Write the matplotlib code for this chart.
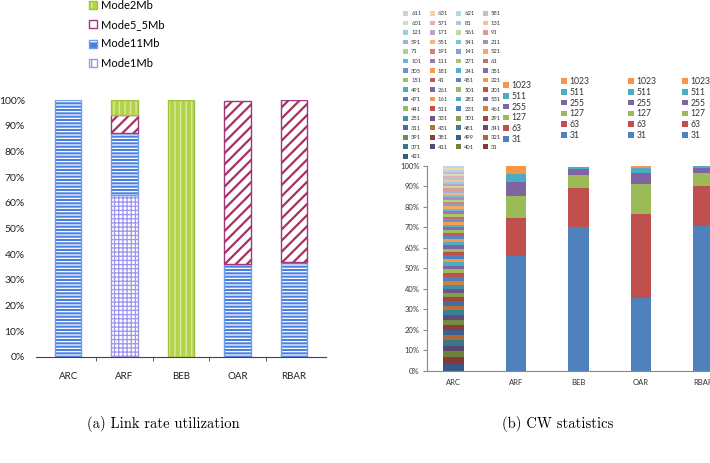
import matplotlib
matplotlib.use('Agg')
import matplotlib.pyplot as plt
from matplotlib.patches import Patch
from matplotlib.ticker import FixedLocator

# ---- data: (a) link rate utilization (percent) ----
categories = ['ARC', 'ARF', 'BEB', 'OAR', 'RBAR']
mode1mb = [0, 63, 0, 0, 0]
mode11mb = [100, 24, 0, 36, 37]
mode5_5mb = [0, 7, 0, 63.5, 63]
mode2mb = [0, 6, 100, 0, 0]

# ---- data: (b) CW statistics (percent) ----
cw_labels = ['31', '63', '127', '255', '511', '1023']
cw_arf = [56, 18.5, 10.5, 7, 4, 4]
cw_beb = [70, 19, 6.5, 2.8, 0.9, 0.4]
cw_oar = [35.5, 41, 14.5, 5.5, 2.5, 1.0]
cw_rbar = [70.5, 19.8, 6.2, 2.5, 0.8, 0.3]

# ARC uses many window sizes, bottom of the stack first
arc_windows = [421, 31, 401, 411, 371, 321, 499, 381, 391, 341, 481, 431,
               311, 291, 301, 331, 251, 461, 231, 511, 441, 531, 281, 161,
               471, 201, 501, 261, 491, 221, 451, 41, 151, 351, 241, 181,
               305, 61, 271, 111, 101, 521, 141, 191, 71, 211, 541, 551,
               591, 91, 561, 171, 121, 131, 81, 571, 601, 581, 621, 631, 611]
arc_shares = [3.5, 3.0, 3.0, 2.4, 3.2, 2.1, 2.6, 2.5, 2.4, 2.3, 2.4, 2.2,
              2.2, 2.1, 2.0, 2.1, 1.9, 2.0, 1.9, 1.8, 1.9, 1.7, 1.8, 1.7,
              1.7, 1.6, 1.6, 1.5, 1.6, 1.5, 1.4, 1.5, 1.4, 1.4, 1.3, 1.4,
              1.3, 1.3, 1.2, 1.3, 1.2, 1.2, 1.1, 1.2, 1.1, 1.1, 1.0, 1.1,
              1.2, 1.1, 1.1, 1.0, 1.0, 1.0, 1.0, 1.0, 0.9, 0.9, 1.0, 0.9, 1.0]

plt.rcParams['font.family'] = ['Lato', 'DejaVu Sans']
plt.rcParams['hatch.linewidth'] = 1.0

W, H = 710, 463
fig = plt.figure(figsize=(W / 100, H / 100), dpi=100)


def px_rect(x0, y_top, x1, y_bot):
    return [x0 / W, (H - y_bot) / H, (x1 - x0) / W, (y_bot - y_top) / H]


# ---------------- (a) ----------------
ax1 = fig.add_axes(px_rect(36, 100, 326, 357))
styles = [
    ('Mode1Mb', mode1mb, 'white', '++++', '#9d94ee', '#9d94ee', 0.9),
    ('Mode11Mb', mode11mb, '#4a7fe0', '-----', 'white', '#6d9eea', 0.9),
    ('Mode5_5Mb', mode5_5mb, 'white', '///', '#a8305f', '#a3357f', 1.6),
    ('Mode2Mb', mode2mb, '#b3d44a', '|||', '#d9eaa0', '#9fc23e', 1.0),
]
xs = list(range(len(categories)))
bottom = [0] * len(categories)
handles = []
for name, vals, fill, hatch, hcol, edge, hlw in styles:
    for x, v, b in zip(xs, vals, bottom):
        if v <= 0:
            continue
        ax1.bar(x, v, 0.47, b, color=fill, linewidth=0)
        with plt.rc_context({'hatch.linewidth': hlw}):
            hb = ax1.bar(x, v, 0.47, b, color='none', edgecolor=hcol,
                         hatch=hatch, linewidth=0)
        for p in hb:
            if hasattr(p, 'set_hatch_linewidth'):
                p.set_hatch_linewidth(hlw)
        ax1.bar(x, v, 0.47, b, color='none', edgecolor=edge, linewidth=1)
    bottom = [b + v for b, v in zip(bottom, vals)]
    handles.append((Patch(facecolor=fill, edgecolor='none'),
                    Patch(facecolor='none', edgecolor=hcol, hatch=hatch[0], linewidth=0),
                    Patch(facecolor='none', edgecolor=edge, linewidth=1)))

ax1.set_xlim(-0.57, 4.57)
ax1.set_ylim(0, 100)
ax1.set_yticks(range(0, 101, 10))
ax1.set_yticklabels([f'{t}%' for t in range(0, 101, 10)])
ax1.set_xticks(xs)
ax1.set_xticklabels(categories)
ax1.xaxis.set_minor_locator(FixedLocator([0.5, 1.5, 2.5, 3.5]))
for s in ['top', 'right', 'left']:
    ax1.spines[s].set_visible(False)
ax1.spines['bottom'].set_color('#444444')
ax1.tick_params(axis='y', length=0, pad=8, labelsize=7.5, labelcolor='#222222')
ax1.tick_params(axis='x', which='major', length=0, pad=11, labelsize=7, labelcolor='#222222')
ax1.tick_params(axis='x', which='minor', length=3, color='#444444')

fig.legend(handles[::-1], [s[0] for s in styles][::-1],
           loc='upper left', bbox_to_anchor=(89 / W, 1 - 0 / H),
           frameon=False, fontsize=8, borderpad=0, borderaxespad=0,
           handlelength=0.75, handleheight=0.75, handletextpad=0.35,
           labelspacing=0.74)

# ---------------- (b) ----------------
base = ['#4F81BD', '#C0504D', '#9BBB59', '#8064A2', '#4BACC6', '#F79646']
shade = [-0.3, -0.25, -0.15, 0.0, 0.0, 0.05, 0.15, 0.28, 0.42, 0.55, 0.66]


def tone(hexc, s):
    rgb = [int(hexc[i:i + 2], 16) / 255 for i in (1, 3, 5)]
    if s < 0:
        return tuple(c * (1 + s) for c in rgb)
    return tuple(c + (1 - c) * s for c in rgb)


arc_colors = [tone(base[i % 6], shade[i // 6]) for i in range(len(arc_windows))]

ax2 = fig.add_axes(px_rect(427, 165.7, 741, 370.7))
bw = 0.33
b = 0
for share, col in zip(arc_shares, arc_colors):
    ax2.bar(0, share, bw, b, color=col, linewidth=0)
    b += share

for pos, vals in zip([1, 2, 3, 4], [cw_arf, cw_beb, cw_oar, cw_rbar]):
    b = 0
    for v, col in zip(vals, base):
        ax2.bar(pos, v, bw, b, color=col, linewidth=0)
        b += v

ax2.set_xlim(-0.42, 4.6)
ax2.set_ylim(0, 100)
ax2.set_yticks(range(0, 101, 10))
ax2.set_yticklabels([f'{t}%' for t in range(0, 101, 10)])
ax2.set_xticks(xs)
ax2.set_xticklabels(categories)
for s in ['top', 'right']:
    ax2.spines[s].set_visible(False)
for s in ['left', 'bottom']:
    ax2.spines[s].set_color('#888888')
ax2.tick_params(axis='y', length=3, color='#888888', pad=2.5, labelsize=5.5, labelcolor='#333333')
ax2.tick_params(axis='x', length=0, pad=6, labelsize=5.5, labelcolor='#333333')

# ARC legend: 4 columns, filled row by row (top series first)
rows = list(zip(arc_windows[::-1], arc_colors[::-1]))
ncol = 4
ordered = []
for c in range(ncol):
    ordered += rows[c::ncol]
fig.legend([Patch(facecolor=col) for _, col in ordered], [str(w) for w, _ in ordered],
           loc='upper left', bbox_to_anchor=(403 / W, 1 - 11 / H), ncol=ncol,
           frameon=False, fontsize=4.2, borderpad=0, borderaxespad=0,
           handlelength=0.9, handleheight=0.9, handletextpad=0.5,
           labelspacing=0.7, columnspacing=1.4, labelcolor='#333333')

# per-bar legends for the other schemes
for lx, ty in [(503, 81), (561, 77), (628, 77), (682, 77)]:
    fig.legend([Patch(facecolor=c) for c in base[::-1]], cw_labels[::-1],
               loc='upper left', bbox_to_anchor=(lx / W, 1 - ty / H),
               frameon=False, fontsize=6.2, borderpad=0, borderaxespad=0,
               handlelength=0.65, handleheight=0.65, handletextpad=0.3,
               labelspacing=0.21, labelcolor='#333333')

# captions
fig.text(163 / W, 1 - 424 / H, '(a) Link rate utilization', ha='center', va='center',
         fontsize=10.5, family='cmr10')
fig.text(558 / W, 1 - 424 / H, '(b) CW statistics', ha='center', va='center',
         fontsize=10.5, family='cmr10')

fig.savefig('out.png', dpi=100)
